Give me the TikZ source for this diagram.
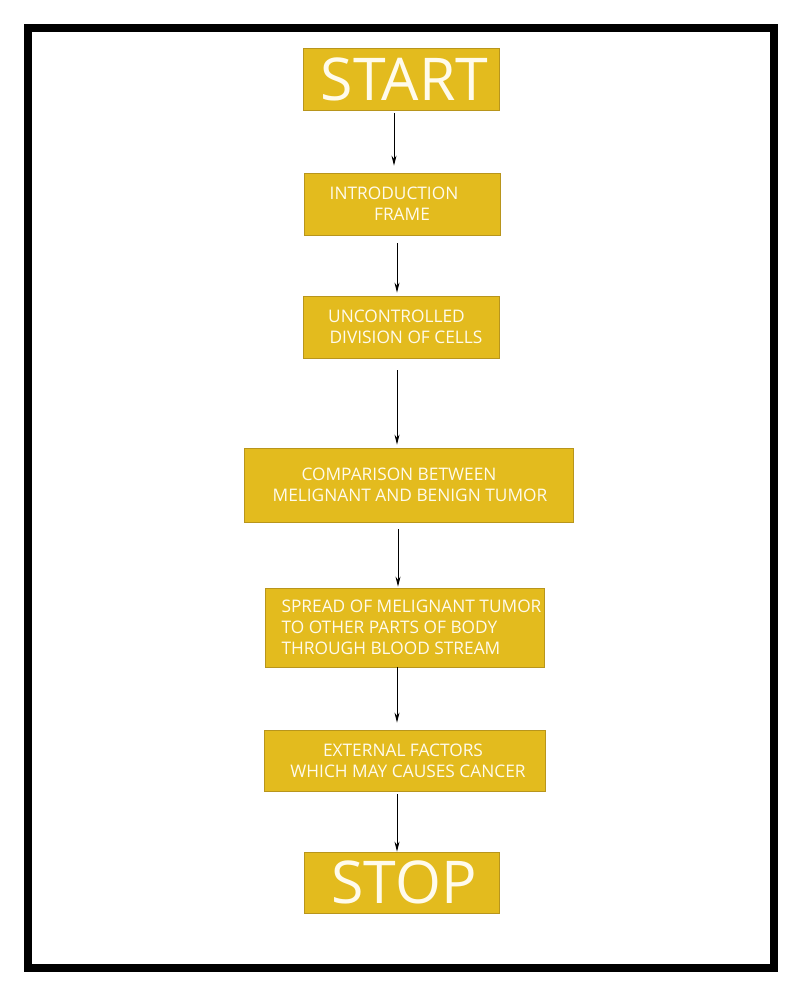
\documentclass[tikz,border=0pt]{standalone}
\usepackage{fontspec}
\setmainfont{Open Sans}
\usetikzlibrary{arrows.meta}
\definecolor{boxfill}{HTML}{E3BB1E}
\definecolor{boxedge}{HTML}{B8951C}
\definecolor{boxtext}{HTML}{FFFBEC}
\begin{document}
\begin{tikzpicture}[x=1pt,y=-1pt,
  box/.style={draw=boxedge, line width=0.8pt, fill=boxfill, text=boxtext, inner sep=0pt, align=center, font=\fontsize{17.3}{20.7}\selectfont},
  big/.style={box, font=\fontsize{59}{60}\selectfont},
  arr/.style={-{Stealth[length=10pt,width=5pt]}, line width=0.9pt}]
\useasboundingbox (0,0) rectangle (800,1000);
\draw[line width=8pt] (28,28) rectangle (774,968);
\node[big, minimum width=196pt, minimum height=62pt] (start) at (401,79) {\hspace*{7pt}START};
\node[box, minimum width=196pt, minimum height=62pt] (intro) at (402,204) {INTRODUCTION\hspace*{16pt}\\FRAME};
\node[box, minimum width=196pt, minimum height=62pt] (unc) at (401,327) {UNCONTROLLED\hspace*{9pt}\\\hspace*{10pt}DIVISION OF CELLS};
\node[box, minimum width=329pt, minimum height=74pt] (comp) at (408.5,485) {COMPARISON BETWEEN\hspace*{19pt}\\\hspace*{3pt}MELIGNANT AND BENIGN TUMOR};
\node[box, minimum width=279pt, minimum height=79pt, align=left] (spread) at (404.5,627.5) {\hspace*{14pt}SPREAD OF MELIGNANT TUMOR\\\hspace*{14pt}TO OTHER PARTS OF BODY\\\hspace*{14pt}THROUGH BLOOD STREAM};
\node[box, minimum width=281pt, minimum height=61pt] (ext) at (404.5,760.5) {EXTERNAL FACTORS\hspace*{3pt}\\\hspace*{7pt}WHICH MAY CAUSES CANCER};
\node[big, minimum width=195pt, minimum height=61pt] (stop) at (401.5,882.5) {\hspace*{5pt}STOP};
\draw[arr, shorten <=3pt, shorten >=7pt] ([xshift=-7pt]start.south) -- ([xshift=-8pt]intro.north);
\draw[arr, shorten <=8pt, shorten >=3pt] ([xshift=-5pt]intro.south) -- ([xshift=-4pt]unc.north);
\draw[arr, shorten <=12pt, shorten >=3pt] ([xshift=-4pt]unc.south) -- ([xshift=-11.5pt]comp.north);
\draw[arr, shorten <=7pt, shorten >=1pt] ([xshift=-10.5pt]comp.south) -- ([xshift=-6.5pt]spread.north);
\draw[arr, shorten <=0pt, shorten >=7pt] ([xshift=-7.5pt]spread.south) -- ([xshift=-7.5pt]ext.north);
\draw[arr, shorten <=3pt, shorten >=0pt] ([xshift=-7.5pt]ext.south) -- ([xshift=-4.5pt]stop.north);
\end{tikzpicture}
\end{document}
